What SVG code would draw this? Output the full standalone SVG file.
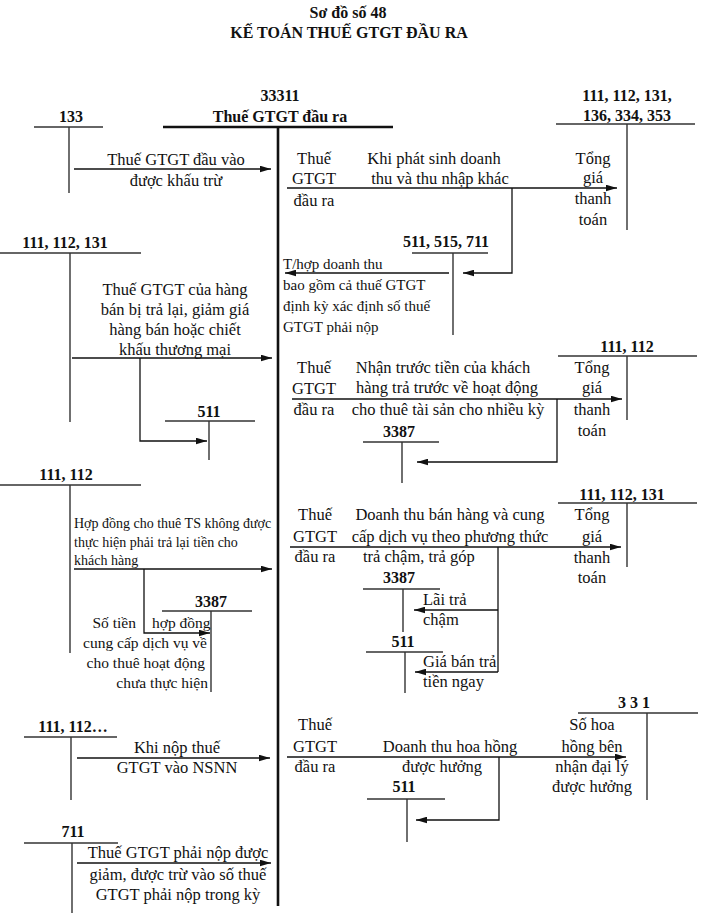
<svg xmlns="http://www.w3.org/2000/svg" width="717" height="913" viewBox="0 0 717 913" font-family="'Liberation Serif', 'Times New Roman', Times, serif">
<style>
text{font-family:'Liberation Serif','Times New Roman',Times,serif;fill:#111;}
.t{font-size:16.5px;text-anchor:middle;}
.tl{font-size:16.5px;}
.s{font-size:14px;}
.s15{font-size:15px;}
.r{font-size:15.5px;text-anchor:end;}
.rs{font-size:15.5px;}
.b{font-size:16px;font-weight:bold;text-anchor:middle;}
.acc{stroke:#333;stroke-width:1.4;fill:none;}
.main{stroke:#111;stroke-width:2.6;fill:none;}
.c{stroke:#111;stroke-width:1.3;fill:none;}
.ca{stroke:#111;stroke-width:1.3;fill:none;marker-end:url(#ah);}
</style>
<defs>
<marker id="ah" viewBox="0 0 10 6" refX="10" refY="3" markerWidth="11" markerHeight="7" markerUnits="userSpaceOnUse" orient="auto">
<path d="M0,0 L10,3 L0,6 z" fill="#111"/>
</marker>
</defs>
<rect width="717" height="913" fill="#fff"/>
<g id="title">
<text class="b" x="348" y="18">Sơ đồ số 48</text>
<text class="b" x="349" y="38">KẾ TOÁN THUẾ GTGT ĐẦU RA</text>
</g>
<g id="acc33311">
<text class="b" x="280" y="101">33311</text>
<text class="b" x="280" y="122">Thuế GTGT đầu ra</text>
<line class="main" x1="163" y1="127" x2="393" y2="127"/>
<line class="main" x1="278" y1="127" x2="278" y2="906"/>
</g>
<g id="acc133">
<text class="b" x="71" y="122">133</text>
<line class="acc" x1="34" y1="127" x2="103" y2="127"/>
<line class="acc" x1="69" y1="127" x2="69" y2="193"/>
</g>
<g id="acc111a">
<text class="b" x="627" y="101">111, 112, 131,</text>
<text class="b" x="627" y="121">136, 334, 353</text>
<line class="acc" x1="556" y1="124" x2="695" y2="124"/>
<line class="acc" x1="627" y1="124" x2="627" y2="230"/>
</g>
<g id="acc511a">
<text class="b" x="446" y="247">511, 515, 711</text>
<line class="acc" x1="412" y1="253" x2="488" y2="253"/>
<line class="acc" x1="453" y1="253" x2="453" y2="335"/>
</g>
<g id="acc111b">
<text class="b" x="65" y="248">111, 112, 131</text>
<line class="acc" x1="0" y1="253" x2="141" y2="253"/>
<line class="acc" x1="70" y1="253" x2="70" y2="422"/>
</g>
<g id="acc511b">
<text class="b" x="209" y="417">511</text>
<line class="acc" x1="165" y1="421" x2="255" y2="421"/>
<line class="acc" x1="209" y1="421" x2="209" y2="460"/>
</g>
<g id="acc111c">
<text class="b" x="627" y="352">111, 112</text>
<line class="acc" x1="558" y1="356" x2="697" y2="356"/>
<line class="acc" x1="627" y1="356" x2="627" y2="420"/>
</g>
<g id="acc3387a">
<text class="b" x="399" y="437">3387</text>
<line class="acc" x1="363" y1="442" x2="439" y2="442"/>
<line class="acc" x1="402" y1="442" x2="402" y2="483"/>
</g>
<g id="acc111d">
<text class="b" x="66" y="480">111, 112</text>
<line class="acc" x1="0" y1="485" x2="141" y2="485"/>
<line class="acc" x1="70" y1="485" x2="70" y2="653"/>
</g>
<g id="acc3387b">
<text class="b" x="211" y="607">3387</text>
<line class="acc" x1="162" y1="611" x2="252" y2="611"/>
<line class="acc" x1="211" y1="611" x2="211" y2="692"/>
</g>
<g id="acc111e">
<text class="b" x="622" y="500">111, 112, 131</text>
<line class="acc" x1="558" y1="503" x2="697" y2="503"/>
<line class="acc" x1="627" y1="503" x2="627" y2="567"/>
</g>
<g id="acc3387c">
<text class="b" x="399" y="583">3387</text>
<line class="acc" x1="363" y1="589" x2="440" y2="589"/>
<line class="acc" x1="403" y1="589" x2="403" y2="632"/>
</g>
<g id="acc511c">
<text class="b" x="403" y="647">511</text>
<line class="acc" x1="366" y1="652" x2="443" y2="652"/>
<line class="acc" x1="405" y1="652" x2="405" y2="693"/>
</g>
<g id="acc111f">
<text class="b" x="73" y="732">111, 112…</text>
<line class="acc" x1="24" y1="737" x2="117" y2="737"/>
<line class="acc" x1="71" y1="737" x2="71" y2="800"/>
</g>
<g id="acc711">
<text class="b" x="73" y="837">711</text>
<line class="acc" x1="24" y1="843" x2="118" y2="843"/>
<line class="acc" x1="72" y1="843" x2="72" y2="913"/>
</g>
<g id="acc331">
<text class="b" x="634" y="708">3 3 1</text>
<line class="acc" x1="578" y1="713" x2="698" y2="713"/>
<line class="acc" x1="647" y1="713" x2="647" y2="800"/>
</g>
<g id="acc511d">
<text class="b" x="404" y="792">511</text>
<line class="acc" x1="367" y1="799" x2="445" y2="799"/>
<line class="acc" x1="407" y1="799" x2="407" y2="842"/>
</g>
<g id="connectors">
<line class="ca" x1="74" y1="169" x2="271" y2="169"/>
<line class="ca" x1="287" y1="188" x2="617" y2="188"/>
<polyline class="ca" points="512,188 512,273 463,273"/>
<line class="ca" x1="449" y1="273" x2="285" y2="273"/>
<line class="ca" x1="72" y1="358" x2="272" y2="358"/>
<polyline class="ca" points="140,358 140,441 207,441"/>
<line class="ca" x1="292" y1="399" x2="622" y2="399"/>
<polyline class="ca" points="557,399 557,462 417,462"/>
<line class="ca" x1="74" y1="569" x2="272" y2="569"/>
<polyline class="ca" points="144,569 144,633 210,633"/>
<line class="ca" x1="290" y1="547" x2="621" y2="547"/>
<polyline class="c" points="498,547 498,672"/>
<line class="ca" x1="498" y1="610" x2="414" y2="610"/>
<line class="ca" x1="498" y1="672" x2="415" y2="672"/>
<line class="ca" x1="77" y1="758" x2="270" y2="758"/>
<line class="ca" x1="77" y1="863" x2="271" y2="863"/>
<line class="ca" x1="287" y1="757" x2="626" y2="757"/>
<polyline class="ca" points="499,757 499,820 416,820"/>
</g>
<g id="labels">
<text class="t" x="176" y="165">Thuế GTGT đầu vào</text>
<text class="t" x="176" y="186">được khấu trừ</text>
<text class="t" x="314" y="164">Thuế</text>
<text class="t" x="314" y="184">GTGT</text>
<text class="t" x="314" y="206">đầu ra</text>
<text class="t" x="434" y="164">Khi phát sinh doanh</text>
<text class="t" x="440" y="184">thu và thu nhập khác</text>
<text class="t" x="593" y="164">Tổng</text>
<text class="t" x="593" y="183">giá</text>
<text class="t" x="593" y="204">thanh</text>
<text class="t" x="593" y="225">toán</text>
<text class="s15" x="283" y="269">T/hợp doanh thu</text>
<text class="s15" x="283" y="290">bao gồm cả thuế GTGT</text>
<text class="s15" x="283" y="311">định kỳ xác định số thuế</text>
<text class="s15" x="283" y="332">GTGT phải nộp</text>
<text class="t" x="175" y="295">Thuế GTGT của hàng</text>
<text class="t" x="175" y="315">bán bị trả lại, giảm giá</text>
<text class="t" x="175" y="335">hàng bán hoặc chiết</text>
<text class="t" x="175" y="355">khấu thương mại</text>
<text class="t" x="314" y="373">Thuế</text>
<text class="t" x="314" y="394">GTGT</text>
<text class="t" x="314" y="415">đầu ra</text>
<text class="t" x="443" y="373">Nhận trước tiền của khách</text>
<text class="t" x="447" y="393">hàng trả trước về hoạt động</text>
<text class="t" x="448" y="415">cho thuê tài sản cho nhiều kỳ</text>
<text class="t" x="592" y="373">Tổng</text>
<text class="t" x="592" y="393">giá</text>
<text class="t" x="592" y="415">thanh</text>
<text class="t" x="592" y="436">toán</text>
<text class="s" x="74" y="528">Hợp đồng cho thuê TS không được</text>
<text class="s" x="74" y="547">thực hiện phải trả lại tiền cho</text>
<text class="s" x="74" y="565">khách hàng</text>
<text class="r" x="136" y="628">Số tiền</text>
<text class="rs" x="152" y="628">hợp đồng</text>
<text class="r" x="207" y="648">cung cấp dịch vụ về</text>
<text class="r" x="205" y="668">cho thuê hoạt động</text>
<text class="r" x="208" y="688">chưa thực hiện</text>
<text class="t" x="315" y="520">Thuế</text>
<text class="t" x="315" y="542">GTGT</text>
<text class="t" x="315" y="562">đầu ra</text>
<text class="t" x="450" y="520">Doanh thu bán hàng và cung</text>
<text class="t" x="450" y="542">cấp dịch vụ theo phương thức</text>
<text class="tl" x="363" y="562">trả chậm, trả góp</text>
<text class="t" x="592" y="520">Tổng</text>
<text class="t" x="592" y="542">giá</text>
<text class="t" x="592" y="563">thanh</text>
<text class="t" x="592" y="583">toán</text>
<text class="tl" x="423" y="605">Lãi trả</text>
<text class="tl" x="423" y="625">chậm</text>
<text class="tl" x="423" y="667">Giá bán trả</text>
<text class="tl" x="423" y="687">tiền ngay</text>
<text class="t" x="177" y="753">Khi nộp thuế</text>
<text class="t" x="177" y="773">GTGT vào NSNN</text>
<text class="t" x="178" y="858">Thuế GTGT phải nộp được</text>
<text class="t" x="178" y="880">giảm, được trừ vào số thuế</text>
<text class="t" x="178" y="900">GTGT phải nộp trong kỳ</text>
<text class="t" x="315" y="730">Thuế</text>
<text class="t" x="315" y="752">GTGT</text>
<text class="t" x="315" y="772">đầu ra</text>
<text class="t" x="450" y="752">Doanh thu hoa hồng</text>
<text class="t" x="442" y="772">được hưởng</text>
<text class="t" x="592" y="730">Số hoa</text>
<text class="t" x="592" y="752">hồng bên</text>
<text class="t" x="592" y="772">nhận đại lý</text>
<text class="t" x="592" y="792">được hưởng</text>
</g>
</svg>
